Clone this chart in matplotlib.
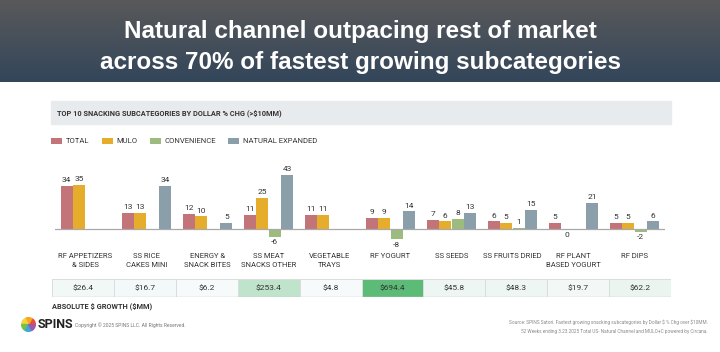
import numpy as np
import matplotlib
matplotlib.use("Agg")
import matplotlib.pyplot as plt
from matplotlib.patches import Rectangle, Wedge
from matplotlib.colors import LinearSegmentedColormap, to_rgb

plt.rcParams['font.family'] = ['Roboto', 'DejaVu Sans']
plt.rcParams['text.parse_math'] = False

# data
categories = ["RF APPETIZERS\n& SIDES", "SS RICE\nCAKES MINI", "ENERGY &\nSNACK BITES",
              "SS MEAT\nSNACKS OTHER", "VEGETABLE\nTRAYS", "RF YOGURT", "SS SEEDS",
              "SS FRUITS DRIED", "RF PLANT\nBASED YOGURT", "RF DIPS"]
series_names = ["TOTAL", "MULO", "CONVENIENCE", "NATURAL EXPANDED"]
total = [34, 13, 12, 11, 11, 9, 7, 6, 5, 5]
mulo = [35, 13, 10, 25, 11, 9, 6, 5, 0, 5]
convenience = [None, None, None, -6, None, -8, 8, 1, None, -2]
natural = [None, 34, 5, 43, None, 14, 13, 15, 21, 6]
abs_growth = [26.4, 16.7, 6.2, 253.4, 4.8, 694.4, 45.8, 48.3, 19.7, 62.2]

colors = ["#c27479", "#e5ad2b", "#9dba7f", "#8a9faa"]
text_dark = "#333333"

W, H = 720, 352
fig = plt.figure(figsize=(7.2, 3.52), dpi=100)


def box(x0, y0, x1, y1):
    # pixel box (top-left origin) -> figure fraction rect
    return [x0 / W, 1 - y1 / H, (x1 - x0) / W, (y1 - y0) / H]


# title band with gradient
bg = fig.add_axes(box(0, 0, 720, 82))
top_c, bot_c = np.array(to_rgb("#59595b")), np.array(to_rgb("#33465a"))
t = np.linspace(0, 1, 100)[:, None]
grad = (top_c * (1 - t) + bot_c * t)[:, None, :]
bg.imshow(grad, aspect='auto', extent=[0, 1, 0, 1])
bg.axis('off')
fig.text(0.5, 1 - 38 / H, "Natural channel outpacing rest of market", color='white',
         fontsize=17.5, fontweight='bold', ha='center', va='baseline', family='Liberation Sans')
fig.text(0.5, 1 - 69 / H, "across 70% of fastest growing subcategories", color='white',
         fontsize=17.5, fontweight='bold', ha='center', va='baseline', family='Liberation Sans')

# header box
fig.patches.append(Rectangle((51 / W, 1 - 124 / H), 620 / W, 23 / H,
                             transform=fig.transFigure, color="#e7ebed", zorder=0))
fig.text(57 / W, 1 - 113 / H, "TOP 10 SNACKING SUBCATEGORIES BY DOLLAR % CHG (>$10MM)",
         fontsize=5.3, fontweight='bold', color=text_dark, va='center')

# bars
ax = fig.add_axes(box(55, 160, 665, 249))
x = np.arange(len(categories))
step, width = 0.205, 0.19
handles = []
for k, vals in enumerate([total, mulo, convenience, natural]):
    xs = [xi + (k - 1.5) * step for xi, v in zip(x, vals) if v is not None]
    vs = [v for v in vals if v is not None]
    bars = ax.bar(xs, vs, width=width, color=colors[k], label=series_names[k])
    handles.append(bars)
    for xi, v in zip(xs, vs):
        if v > 0:
            ax.annotate(str(v), (xi, v), xytext=(0, 2), textcoords='offset points',
                        ha='center', va='bottom', fontsize=6, color=text_dark)
        else:
            ax.annotate(str(v), (xi, v), xytext=(0, -2), textcoords='offset points',
                        ha='center', va='top', fontsize=6, color=text_dark)
ax.axhline(0, color="#a9a9a9", lw=0.9)
ax.set_xlim(-0.5, len(categories) - 0.5)
ax.set_ylim(-15.9, 54.8)
ax.set_xticks(x)
ax.set_xticklabels(categories, fontsize=5.5, color=text_dark, linespacing=1.55)
ax.tick_params(axis='x', length=0, pad=3)
ax.set_yticks([])
for s in ax.spines.values():
    s.set_visible(False)
ax.patch.set_alpha(0)

fig.legend(handles, series_names, loc='center left', bbox_to_anchor=(51 / W, 1 - 141 / H),
           ncol=4, frameon=False, fontsize=5.5, handlelength=1.44, handleheight=0.92,
           handletextpad=0.5, columnspacing=1.6, borderpad=0, borderaxespad=0,
           labelcolor=text_dark)

# table of absolute growth
tab = fig.add_axes(box(52, 279, 671, 297))
cmap = LinearSegmentedColormap.from_list("g", ["#f7fafb", "#5dbb78"])
tab.pcolormesh(np.arange(len(abs_growth) + 1), [0, 1], np.array([abs_growth]),
               cmap=cmap, vmin=0, vmax=max(abs_growth), edgecolors="#d9dedd", linewidth=0.6)
for i, v in enumerate(abs_growth):
    tab.text(i + 0.5, 0.5, f"${v:.1f}", ha='center', va='center', fontsize=6, color=text_dark)
tab.set_xlim(0, len(abs_growth))
tab.set_ylim(0, 1)
tab.set_xticks([])
tab.set_yticks([])
for s in tab.spines.values():
    s.set_visible(False)
tab.axhline(0, color="#c8cccc", lw=1)
fig.text(52 / W, 1 - 306 / H, "ABSOLUTE $ GROWTH ($MM)", fontsize=5.3, fontweight='bold',
         color=text_dark, va='center')

# footer
logo = fig.add_axes(box(21, 317, 36, 332))
logo.set_aspect('equal')
for a0, c in zip(range(0, 360, 60), ["#e94b3c", "#f5a623", "#f8d33b", "#7ac143", "#3fa9d6", "#9b59b6"]):
    logo.add_patch(Wedge((0, 0), 1, a0, a0 + 55, color=c))
logo.set_xlim(-1.1, 1.1)
logo.set_ylim(-1.1, 1.1)
logo.axis('off')
fig.text(38 / W, 1 - 325 / H, "SPINS", fontsize=9, fontweight='bold', color="#222222",
         va='center')
fig.text(75 / W, 1 - 325 / H, "Copyright \u00a9 2025 SPINS LLC. All Rights Reserved.",
         fontsize=3.6, color="#777777", va='center')
fig.text(708 / W, 1 - 322 / H,
         "Source: SPINS Satori. Fastest growing snacking subcategories by Dollar $ % Chg over $10MM.",
         fontsize=3.4, color="#8a8a8a", ha='right', va='center')
fig.text(708 / W, 1 - 332 / H,
         "52 Weeks ending 3.23.2025 Total US- Natural Channel and MULO+C powered by Circana.",
         fontsize=3.4, color="#8a8a8a", ha='right', va='center')

fig.savefig("out.png", dpi=100, facecolor='white')
